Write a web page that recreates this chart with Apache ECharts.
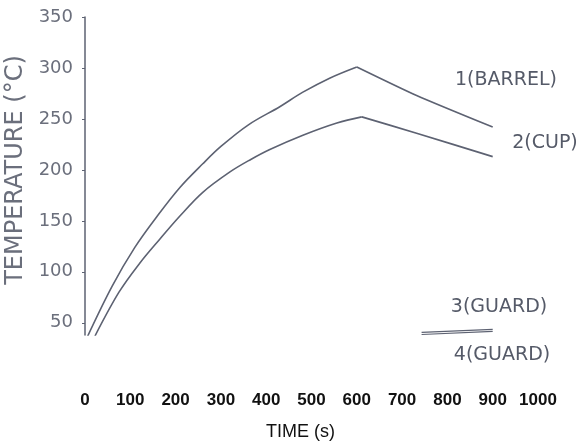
<!DOCTYPE html>
<html><head><meta charset="utf-8">
<script src="https://cdn.jsdelivr.net/npm/echarts@6/dist/echarts.min.js"></script>
<style>html,body{margin:0;padding:0;background:#fff}#c{width:584px;height:447px}</style>
</head><body><div id="c"></div>
<script>
// Data (time s, temperature °C)
var barrelRise = [[6,37],[60,86],[110,124],[160,155],[210,183],[260,206],[300,223],[360,244],[430,262],[480,276],[540,290],[600,301]];
var barrelFall = [[600,301],[732,273],[900,242]];
var cupRise = [[22,37],[75,80],[120,108],[165,132],[210,155],[260,178],[320,198],[365,210],[408,220],[481,234],[556,246],[611,252]];
var cupFall = [[611,252],[732,236],[900,213]];
var guard3 = [[743,40.5],[900,43.5]];
var guard4 = [[743,38.5],[900,41.5]];
var yTicks = [50,100,150,200,250,300,350];
var xTicks = [0,100,200,300,400,500,600,700,800,900,1000];
var curveLabels = ['1(BARREL)','2(CUP)','3(GUARD)','4(GUARD)'];

var lineColor = '#5d6272';
var textColor = '#555a68';
function ln(data, extra){
  var s = {type:'line', data:data, symbol:'none', lineStyle:{color:lineColor,width:1.6}, silent:true, animation:false};
  for (var k in extra) s[k]=extra[k];
  return s;
}
var labelPos = [[506,80],[545,143],[499,307],[502,355]];
var chart = echarts.init(document.getElementById('c'));
chart.setOption({
  animation:false,
  grid:{left:85,right:46,top:17,bottom:112,containLabel:false,outerBoundsMode:'none'},
  xAxis:{type:'value',min:0,max:1000,
    axisLine:{show:false},axisTick:{show:false},splitLine:{show:false},
    axisLabel:{customValues:xTicks,margin:57,color:'#111',fontSize:17,fontWeight:'bold',
      fontFamily:'Liberation Sans, Arial, sans-serif',formatter:function(v){return String(v);}},
    name:'TIME (s)',nameLocation:'middle',nameGap:88,
    nameTextStyle:{color:'#111',fontSize:18,fontFamily:'Liberation Sans, Arial, sans-serif',padding:[0,22,0,0]}},
  yAxis:{type:'value',min:38,max:350,
    axisLine:{show:true,lineStyle:{color:lineColor,width:1.5}},
    axisTick:{show:true,customValues:yTicks,length:3,inside:false,lineStyle:{color:lineColor}},
    splitLine:{show:false},
    axisLabel:{customValues:yTicks,margin:12,color:'#6b6f7c',fontSize:18,fontFamily:'DejaVu Sans, sans-serif'},
    name:'TEMPERATURE (°C)',nameLocation:'middle',nameGap:56,
    nameTextStyle:{color:'#6b6f7c',fontSize:24,fontFamily:'DejaVu Sans, sans-serif',padding:[0,0,0,12]}},
  graphic: curveLabels.map(function(t,i){
    return {type:'text',x:labelPos[i][0],y:labelPos[i][1],silent:true,
      style:{text:t,fill:textColor,font:'19px "DejaVu Sans", sans-serif',align:'center',verticalAlign:'middle'}};
  }),
  series:[
    ln(barrelRise,{smooth:0.35}),
    ln(barrelFall,{smooth:0.2}),
    ln(cupRise,{smooth:0.35}),
    ln(cupFall,{smooth:0.2}),
    ln(guard3,{lineStyle:{color:lineColor,width:1.2}}),
    ln(guard4,{lineStyle:{color:lineColor,width:1.2}})
  ]
});
</script></body></html>
